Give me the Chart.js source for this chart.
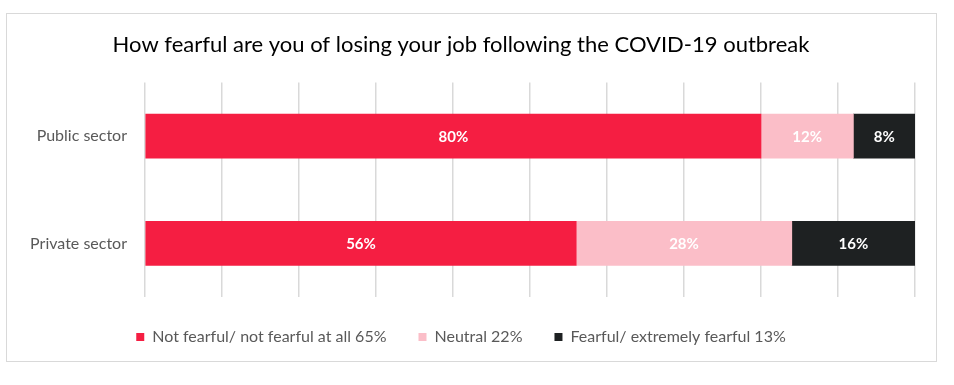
<!DOCTYPE html>
<html>
<head>
<meta charset="utf-8">
<script src="https://cdn.jsdelivr.net/npm/chart.js@4.4.1/dist/chart.umd.min.js"></script>
<style>
  html, body { margin: 0; padding: 0; background: #fff; }
  #box {
    position: absolute; left: 6px; top: 13px;
    width: 929px; height: 347px;
    border: 1px solid #d9d9d9;
  }
</style>
</head>
<body>
<div id="box"><canvas id="chart1" width="929" height="347"></canvas></div>
<script>
// data
var sectors = ["Public sector", "Private sector"];
var seriesNames = ["Not fearful/ not fearful at all 65%", "Neutral 22%", "Fearful/ extremely fearful 13%"];
var notFearful = [80, 56];
var neutral = [12, 28];
var fearful = [8, 16];
var gridTicks = [0, 10, 20, 30, 40, 50, 60, 70, 80, 90, 100];

var colours = ["#f51e42", "#fbbec8", "#1e2122"];
var fontName = "Lato, 'Open Sans', sans-serif";

// draws the % values in the middle of each bar piece
var valueLabels = {
  id: 'valueLabels',
  afterDatasetsDraw: function(chart) {
    var ctx = chart.ctx;
    ctx.save();
    ctx.font = "bold 15px " + fontName;
    ctx.textAlign = "center";
    ctx.textBaseline = "middle";
    ctx.fillStyle = "#ffffff";
    chart.data.datasets.forEach(function(ds, i) {
      var meta = chart.getDatasetMeta(i);
      meta.data.forEach(function(bar, j) {
        var p = bar.getCenterPoint();
        ctx.fillText(ds.data[j] + "%", p.x, p.y + 1);
      });
    });
    ctx.restore();
  }
};

var configg = {
  type: 'bar',
  data: {
    labels: sectors,
    datasets: [
      { label: seriesNames[0], data: notFearful, backgroundColor: colours[0] },
      { label: seriesNames[1], data: neutral, backgroundColor: colours[1] },
      { label: seriesNames[2], data: fearful, backgroundColor: colours[2] }
    ]
  },
  options: {
    indexAxis: 'y',
    responsive: false,
    animation: false,
    datasets: { bar: { barThickness: 44, borderWidth: 0 } },
    layout: { padding: { left: 0, right: 21, top: 0, bottom: 6 } },
    scales: {
      x: {
        stacked: true, min: 0, max: 100,
        afterBuildTicks: function(scale) {
          scale.ticks = gridTicks.map(function(v) { return { value: v }; });
        },
        ticks: { display: false },
        grid: { color: "#d9d9d9", lineWidth: 1.5, drawTicks: false },
        border: { display: false }
      },
      y: {
        stacked: true,
        afterFit: function(scale) { scale.width = 138; },
        ticks: { color: "#595959", padding: 18, font: { family: fontName, size: 16 } },
        grid: { display: false, drawTicks: false },
        border: { display: false }
      }
    },
    plugins: {
      title: {
        display: true,
        text: 'How fearful are you of losing your job following the COVID-19 outbreak',
        color: "#000",
        font: { family: fontName, size: 22, weight: 'normal' },
        padding: { top: 18, bottom: 24 }
      },
      legend: {
        position: 'bottom',
        labels: {
          color: "#595959",
          boxWidth: 8, boxHeight: 8,
          padding: 32,
          font: { family: fontName, size: 16 }
        }
      },
      tooltip: { enabled: false }
    }
  },
  plugins: [valueLabels]
};

var ctx1 = document.getElementById("chart1");
var myBar = new Chart(ctx1, configg);
</script>
</body>
</html>
